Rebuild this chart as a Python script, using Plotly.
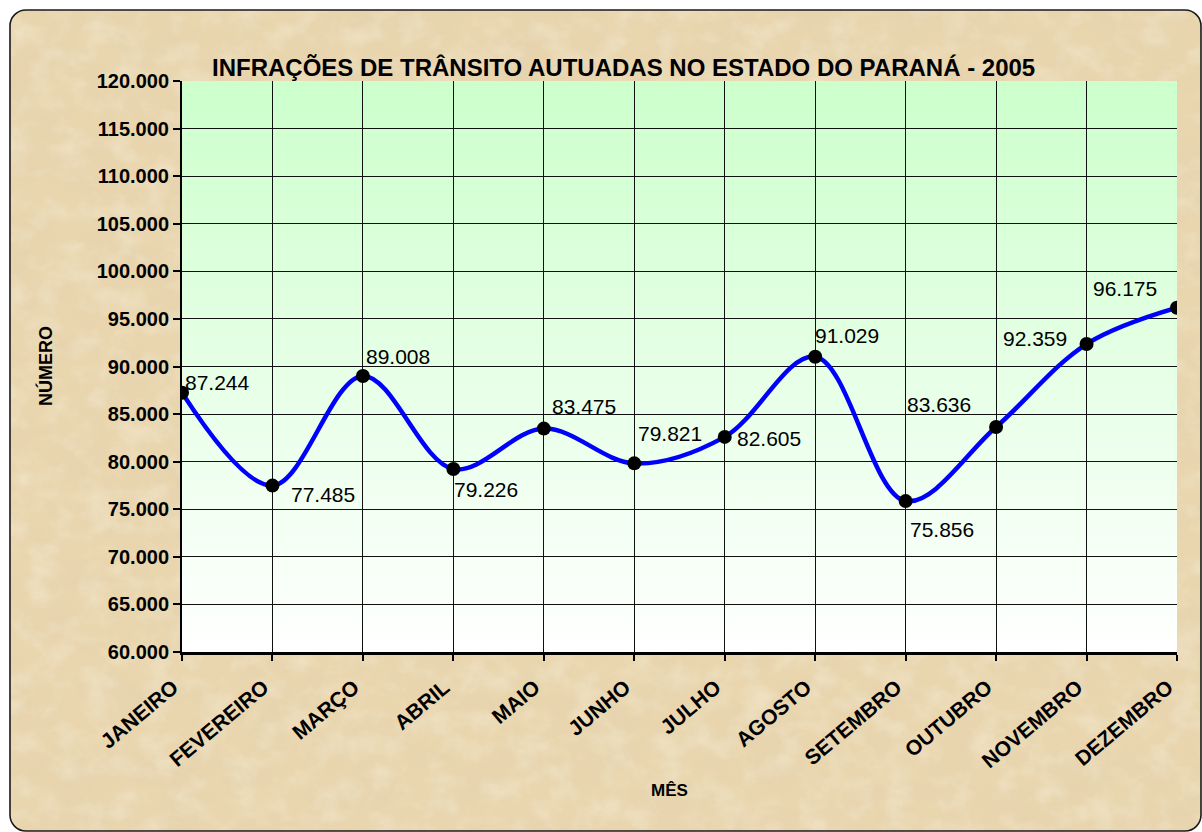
import base64
import plotly.graph_objects as go

# ---------------- data ----------------
months = ["JANEIRO", "FEVEREIRO", "MARÇO", "ABRIL", "MAIO", "JUNHO",
          "JULHO", "AGOSTO", "SETEMBRO", "OUTUBRO", "NOVEMBRO", "DEZEMBRO"]
values = [87244, 77485, 89008, 79226, 83475, 79821,
          82605, 91029, 75856, 83636, 92359, 96175]
y_tick_vals = [60000, 65000, 70000, 75000, 80000, 85000, 90000,
               95000, 100000, 105000, 110000, 115000, 120000]
title_text = "INFRAÇÕES DE TRÂNSITO AUTUADAS NO ESTADO DO PARANÁ - 2005"
x_title = "MÊS"
y_title = "NÚMERO"

# label offsets (pixels) relative to each point: style only
label_dx = [35, 51, 35, 33, 40, 36, 44, 32, 36, -57, -52, -52]
label_dy = [-10, 9, -19, 20, -22, -30, 2, -21, 28, -23, -6, -19]


def br(v):
    return f"{v:,}".replace(",", ".")


# ---------------- layout geometry ----------------
W, H = 1202, 832
L, R, T, B = 182, 25, 81, 180
pw, ph = W - L - R, H - T - B
FONT = "Arial, 'Liberation Sans', sans-serif"

svg = f'''<svg xmlns="http://www.w3.org/2000/svg" width="{W}" height="{H}" viewBox="0 0 {W} {H}">
<defs>
<linearGradient id="g" x1="0" y1="0" x2="0" y2="1">
<stop offset="0" stop-color="#CCFFCC"/><stop offset="1" stop-color="#FFFFFF"/></linearGradient>
<filter id="n" x="0" y="0" width="100%" height="100%">
<feTurbulence type="fractalNoise" baseFrequency="0.02 0.028" numOctaves="5" seed="7"/>
<feColorMatrix type="matrix" values="0 0 0 0 0.76  0 0 0 0 0.63  0 0 0 0 0.42  2.2 0 0 0 -0.9"/>
</filter>
<filter id="m" x="0" y="0" width="100%" height="100%">
<feTurbulence type="fractalNoise" baseFrequency="0.035 0.045" numOctaves="4" seed="3"/>
<feColorMatrix type="matrix" values="0 0 0 0 0.97  0 0 0 0 0.92  0 0 0 0 0.80  2.2 0 0 0 -0.95"/>
</filter>
<clipPath id="c"><rect x="10" y="10" width="1191" height="821" rx="16"/></clipPath>
</defs>
<g clip-path="url(#c)">
<rect x="0" y="0" width="{W}" height="{H}" fill="#E9D6AF"/>
<rect x="0" y="0" width="{W}" height="{H}" filter="url(#n)" opacity="0.38"/>
<rect x="0" y="0" width="{W}" height="{H}" filter="url(#m)" opacity="0.32"/>
</g>
<rect x="10" y="10" width="1191" height="821" rx="16" fill="none" stroke="#1a1a1a" stroke-width="1.6"/>
<rect x="{L}" y="{T}" width="{pw}" height="{ph}" fill="url(#g)"/>
</svg>'''
svg_uri = "data:image/svg+xml;base64," + base64.b64encode(svg.encode("utf-8")).decode("ascii")

fig = go.Figure()
fig.add_trace(go.Scatter(
    x=months, y=values, mode="lines+markers",
    line=dict(color="#0000FF", width=4.5, shape="spline", smoothing=1.0),
    marker=dict(color="black", size=14),
    hoverinfo="skip",
))

annotations = []
for m, v, dx, dy in zip(months, values, label_dx, label_dy):
    annotations.append(dict(
        x=m, y=v, xref="x", yref="y", text=br(v), showarrow=False,
        xshift=dx, yshift=-dy, font=dict(family=FONT, size=21, color="black"),
    ))
annotations.append(dict(
    text=title_text, xref="paper", yref="paper",
    x=(623 - L) / pw, y=(H - B - 67) / ph, xanchor="center", yanchor="middle",
    showarrow=False, font=dict(family=FONT, size=24, color="black", weight="bold"),
))
annotations.append(dict(
    text=x_title, xref="paper", yref="paper",
    x=(669 - L) / pw, y=(H - B - 790) / ph, xanchor="center", yanchor="middle",
    showarrow=False, font=dict(family=FONT, size=17, color="black", weight="bold"),
))
annotations.append(dict(
    text=y_title, xref="paper", yref="paper", textangle=-90,
    x=(45 - L) / pw, y=(H - B - 366) / ph, xanchor="center", yanchor="middle",
    showarrow=False, font=dict(family=FONT, size=18, color="black", weight="bold"),
))

fig.update_layout(
    width=W, height=H,
    margin=dict(l=L, r=R, t=T, b=B, pad=0),
    paper_bgcolor="white",
    plot_bgcolor="rgba(0,0,0,0)",
    showlegend=False,
    annotations=annotations,
    images=[dict(
        source=svg_uri, xref="paper", yref="paper",
        x=-L / pw, y=1 + T / ph, sizex=W / pw, sizey=H / ph,
        xanchor="left", yanchor="top", sizing="stretch", layer="below",
    )],
    xaxis=dict(
        type="category", range=[0, len(months) - 1],
        showgrid=True, gridcolor="#111111", gridwidth=1,
        showline=True, linecolor="black", linewidth=3,
        ticks="outside", ticklen=6, tickwidth=2, tickcolor="black",
        tickangle=-40, ticklabelshift=-9, ticklabelstandoff=6,
        tickfont=dict(family=FONT, size=21, color="black", weight="bold"),
        zeroline=False,
    ),
    yaxis=dict(
        range=[y_tick_vals[0], y_tick_vals[-1]],
        tickvals=y_tick_vals, ticktext=[br(v) for v in y_tick_vals],
        showgrid=True, gridcolor="#111111", gridwidth=1,
        showline=True, linecolor="black", linewidth=2,
        ticks="outside", ticklen=7, tickwidth=1.5, tickcolor="black",
        tickfont=dict(family=FONT, size=20, color="black", weight="bold"),
        zeroline=False,
    ),
)

fig.write_html("out.html", config={"displayModeBar": False},
               post_script="document.body.style.margin='0';document.body.style.overflow='hidden';")
